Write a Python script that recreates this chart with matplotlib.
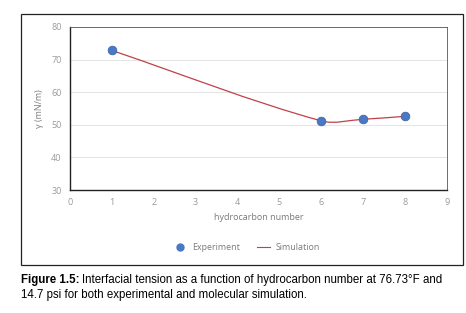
import numpy as np
import matplotlib.pyplot as plt
from matplotlib.path import Path
from matplotlib.patches import PathPatch, Rectangle
from matplotlib.lines import Line2D

carbon = [1, 6, 7, 8]
experiment = [72.8, 51.2, 51.7, 52.6]
simulation = [72.8, 51.2, 51.7, 52.6]

fig = plt.figure(figsize=(4.66, 3.13), dpi=100)
W, H = 466, 313

# outer frame of the chart box
fig.patches.append(Rectangle((21 / W, 1 - 265 / H), (463 - 21) / W, (265 - 14) / H,
                             transform=fig.transFigure, fill=False, ec='#222222', lw=0.9))

ax = fig.add_axes([70 / W, 1 - 190 / H, (447 - 70) / W, (190 - 27) / H])
ax.set_xlim(0, 9)
ax.set_ylim(30, 80)
ax.set_xticks(range(10))
ax.set_yticks(range(30, 81, 10))
ax.grid(axis='y', color='#e4e4e4', lw=0.7)
ax.set_axisbelow(True)
for s in ['top', 'right']:
    ax.spines[s].set_color('#555555')
    ax.spines[s].set_linewidth(0.6)
for s in ['left', 'bottom']:
    ax.spines[s].set_color('#222222')
    ax.spines[s].set_linewidth(1.0)
ax.tick_params(length=0, labelsize=6.5, colors='#9a9a9a', pad=6)
for t in ax.get_xticklabels() + ax.get_yticklabels():
    t.set_fontfamily('Open Sans')
ax.set_xlabel('hydrocarbon number', fontsize=6.5, color='#7a7a7a', family='Open Sans', labelpad=4)
ax.set_ylabel('γ (mN/m)', fontsize=6.5, color='#7a7a7a', family='Open Sans', labelpad=5)

# smoothed simulation line, built in screen space so the curve looks like spreadsheet smoothing
pts = ax.transData.transform(np.column_stack([carbon, simulation]))
n = len(pts)
verts = [pts[0]]
codes = [Path.MOVETO]
def tangent(i):
    a = pts[max(i - 1, 0)]
    b = pts[min(i + 1, n - 1)]
    d = b - a
    return d / np.hypot(*d)
for i in range(n - 1):
    L = np.hypot(*(pts[i + 1] - pts[i])) / 3
    verts += [pts[i] + tangent(i) * L, pts[i + 1] - tangent(i + 1) * L, pts[i + 1]]
    codes += [Path.CURVE4] * 3
verts = ax.transData.inverted().transform(np.array(verts))
ax.add_patch(PathPatch(Path(verts, codes), fill=False, ec='#c0404a', lw=0.9, zorder=3))

ax.plot(carbon, experiment, 'o', ms=6.3, color='#4a78c2', mec='#3a62a8', mew=0.5, zorder=4)

handles = [Line2D([], [], marker='o', ls='none', ms=5, color='#4a78c2'),
           Line2D([], [], color='#c0404a', lw=0.8)]
leg = fig.legend(handles, ['Experiment', 'Simulation'], loc='center', bbox_to_anchor=(247 / W, 1 - 248 / H),
                 ncol=2, frameon=False, handlelength=1.4, handletextpad=0.7, columnspacing=1.9,
                 prop={'family': 'Open Sans', 'size': 6.4})
for t in leg.get_texts():
    t.set_color('#7a7a7a')

# caption: bold lead-in followed by normal text
fig.canvas.draw()
r = fig.canvas.get_renderer()
bold = fig.text(21 / W, 1 - 280 / H, 'Figure 1.5:', fontsize=8.3, family='Liberation Sans',
                weight='bold', va='center')
bb = bold.get_window_extent(renderer=r)
fig.text(bb.x1 / fig.bbox.width + 2.5 / W, 1 - 280 / H,
         'Interfacial tension as a function of hydrocarbon number at 76.73°F and',
         fontsize=8.3, family='Liberation Sans', va='center')
fig.text(21 / W, 1 - 295 / H, '14.7 psi for both experimental and molecular simulation.',
         fontsize=8.3, family='Liberation Sans', va='center')
fig.savefig('out.png', dpi=100)
